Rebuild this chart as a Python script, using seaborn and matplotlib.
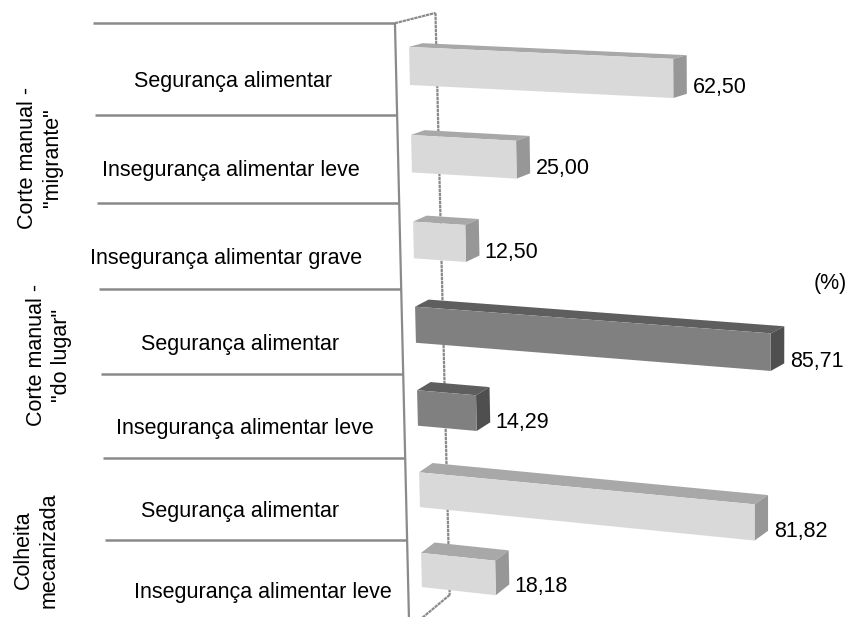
import numpy as np
import pandas as pd
import matplotlib
matplotlib.use("Agg")
import matplotlib.pyplot as plt
import matplotlib.transforms as mtransforms
from matplotlib.path import Path
from matplotlib.patches import Polygon
import seaborn as sns

# ---- data -------------------------------------------------------------
group_titles = ['Corte manual -\n"migrante"', 'Corte manual -\n"do lugar"', 'Colheita\nmecanizada']

migrante_cats = ["Segurança alimentar", "Insegurança alimentar leve", "Insegurança alimentar grave"]
migrante_vals = [62.50, 25.00, 12.50]

lugar_cats = ["Segurança alimentar", "Insegurança alimentar leve"]
lugar_vals = [85.71, 14.29]

mecanizada_cats = ["Segurança alimentar", "Insegurança alimentar leve"]
mecanizada_vals = [81.82, 18.18]

unit_label = "(%)"

# ---- styling ----------------------------------------------------------
FRONT = {group_titles[0]: "#d9d9d9", group_titles[1]: "#808080", group_titles[2]: "#d9d9d9"}
TOP = {"#d9d9d9": "#a8a8a8", "#808080": "#5e5e5e"}
SIDE = {"#d9d9d9": "#979797", "#808080": "#4f4f4f"}
LINE = "#8a8a8a"
W, H = 846, 617
BAR_W = 0.43

# horizontal centre of each category label (pixels)
LABEL_CX = [233, 231, 226, 240, 245, 240, 263]
# centre of each rotated group title (pixels)
GROUP_XY = [(40, 158), (49, 355), (36, 550)]

sns.set_theme(style="white")
plt.rcParams["font.family"] = ["Liberation Sans", "DejaVu Sans"]
FS = 15.5

rows = []
for g, cats, vals in [(group_titles[0], migrante_cats, migrante_vals),
                      (group_titles[1], lugar_cats, lugar_vals),
                      (group_titles[2], mecanizada_cats, mecanizada_vals)]:
    for c, v in zip(cats, vals):
        rows.append({"grupo": g, "categoria": c, "valor": v,
                     "linha": f"{g} | {c}"})
df = pd.DataFrame(rows)


# ---- perspective projection: (value, row, depth) -> pixel ---------------
def project(v, r, z):
    v, r, z = np.broadcast_arrays(np.asarray(v, float), np.asarray(r, float),
                                  np.asarray(z, float))
    px = 409.5 + 2.0 * r + v * (4.22 - 0.025 * r) + z * 13.5
    py = 66.0 + 88.5 * r - 0.75 * r ** 2 + v * (0.20 + 0.04 * r) + z * (-4.0 - 1.1 * r)
    return px, py


class Perspective(mtransforms.Transform):
    input_dims = output_dims = 2
    is_separable = False

    def __init__(self, bar_depth=0.0):
        super().__init__()
        self.bar_depth = bar_depth

    def transform_non_affine(self, values):
        values = np.asarray(values, float).reshape(-1, 2)
        px, py = project(values[:, 0], values[:, 1], self.bar_depth)
        return np.column_stack([px, py])

    def transform_path_non_affine(self, path):
        return Path(self.transform_non_affine(path.vertices), path.codes)


fig = plt.figure(figsize=(W / 100, H / 100), dpi=100)
ax = fig.add_axes([0, 0, 1, 1])

sns.barplot(data=df, x="valor", y="linha", hue="grupo", palette=FRONT,
            order=list(df["linha"]), hue_order=group_titles, dodge=False,
            width=BAR_W, errorbar=None, legend=False, saturation=1,
            linewidth=0, orient="h", ax=ax)

persp = Perspective(0.0)
front_patches = [p for p in ax.patches if p.get_width() > 0]
for p in front_patches:
    v = p.get_width()
    r0 = p.get_y()
    r1 = r0 + p.get_height()
    rc = 0.5 * (r0 + r1)
    face = matplotlib.colors.to_hex(p.get_facecolor())
    p.set_transform(persp + ax.transData)
    p.set_zorder(4)

    # top face
    tx, ty = project([0, v, v, 0], [r0, r0, r0, r0], [0, 0, 1, 1])
    ax.add_patch(Polygon(np.column_stack([tx, ty]), closed=True,
                         facecolor=TOP[face], edgecolor="none", zorder=3))
    # right end face
    sx, sy = project([v, v, v, v], [r0, r1, r1, r0], [0, 0, 1, 1])
    ax.add_patch(Polygon(np.column_stack([sx, sy]), closed=True,
                         facecolor=SIDE[face], edgecolor="none", zorder=3))

    # value label
    lx, _ = project(v, r0, 1)
    _, ly = project(v, rc, 0)
    ax.text(float(lx) + 6, float(ly) + 9, f"{v:.2f}".replace(".", ","), fontsize=FS,
            ha="left", va="center", color="black", zorder=5)

# ---- walls ------------------------------------------------------------
n_rows = len(df)
r_top, r_bot = -0.52, 6.6
fx, fy = project([0, 0], [r_top, r_bot], [-1, -1])
ax.plot(fx, fy, color=LINE, lw=1.6, zorder=1, solid_capstyle="butt")
bx, by = project([0, 0], [r_top, r_bot], [2, 2])
ax.plot(bx, by, color=LINE, lw=1.6, zorder=1, ls=(0, (1.5, 0.3)))
dx, dy = project([0, 0], [r_top, r_top], [-1, 2])
ax.plot(dx, dy, color=LINE, lw=1.6, zorder=1, ls=(0, (1.5, 0.3)))
ex, ey = project([0, 0], [r_bot, r_bot], [2, -1])
ax.plot(ex, ey, color=LINE, lw=1.6, zorder=1, ls=(0, (1.5, 0.3)))

# ---- category separators and labels -----------------------------------
bounds = [r_top] + [i + 0.5 for i in range(n_rows - 1)]
for b in bounds:
    x1, y1 = project(0, b, -1)
    ax.plot([float(x1) - 302, float(x1)], [float(y1), float(y1)],
            color=LINE, lw=1.8, zorder=1, solid_capstyle="butt")

for i, cat in enumerate(df["categoria"]):
    _, y1 = project(0, i, -1)
    ax.text(LABEL_CX[i], float(y1) + 12, cat, fontsize=FS,
            ha="center", va="center", color="black")

for title, (gx, gy) in zip(group_titles, GROUP_XY):
    ax.text(gx, gy, title, fontsize=FS, rotation=90, ha="center",
            va="center", multialignment="center", color="black",
            linespacing=1.3)

ax.text(830, 283, unit_label, fontsize=FS, ha="center", va="center",
        color="black")

ax.set_xlim(0, W)
ax.set_ylim(H, 0)
ax.axis("off")

fig.savefig("out.png", dpi=100, facecolor="white")
